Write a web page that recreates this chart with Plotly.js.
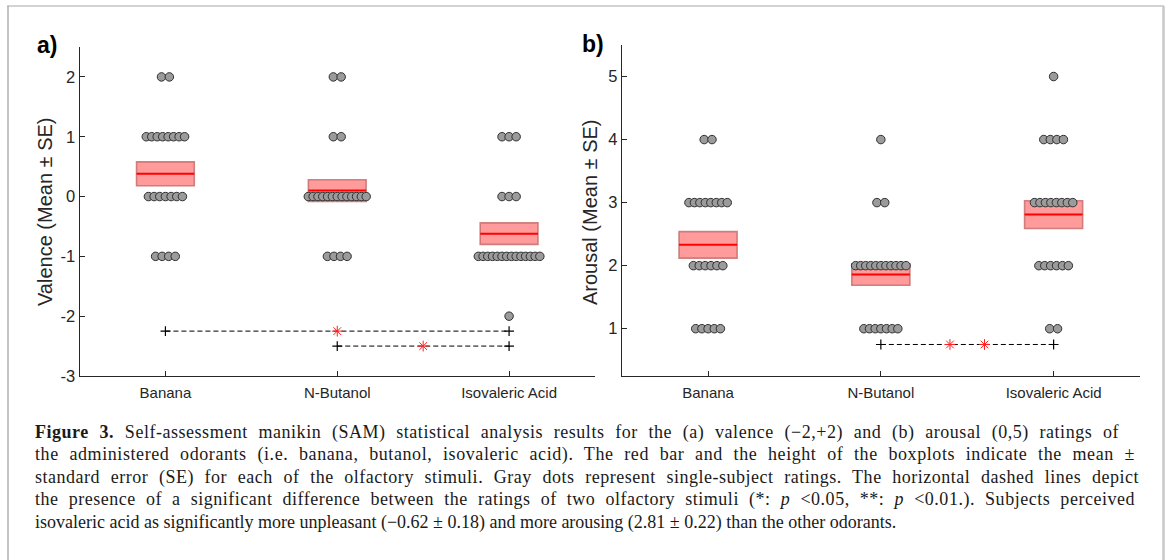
<!DOCTYPE html>
<html>
<head>
<meta charset="utf-8">
<script src="https://cdn.plot.ly/plotly-3.0.1.min.js"></script>
<style>
  html, body { margin: 0; padding: 0; background: #ffffff; }
  #chart { width: 1170px; height: 560px; }
</style>
</head>
<body>
<div id="chart"></div>
<script>
// ---------------- DATA ----------------
const categories = ['Banana', 'N-Butanol', 'Isovaleric Acid'];

// Valence ratings: number of subjects at each level, per odorant
const valenceLevels = [2, 1, 0, -1, -2];
const valenceCounts = [
  [2, 8, 7, 4, 0],    // Banana
  [2, 2, 13, 4, 0],   // N-Butanol
  [0, 3, 3, 14, 1]    // Isovaleric Acid
];
const valenceMean = [0.38, 0.10, -0.62];
const valenceSE = [0.20, 0.18, 0.18];
const valenceTicks = [-3, -2, -1, 0, 1, 2];
// significance: [from, to], y level, number of stars
const valenceSigPairs = [[1, 3], [2, 3]];
const valenceSigY = [-2.25, -2.5];
const valenceSigStars = [1, 1];

// Arousal ratings
const arousalLevels = [5, 4, 3, 2, 1];
const arousalCounts = [
  [0, 2, 8, 6, 5],    // Banana
  [0, 1, 2, 11, 7],   // N-Butanol
  [1, 4, 8, 6, 2]     // Isovaleric Acid
];
const arousalMean = [2.33, 1.86, 2.81];
const arousalSE = [0.21, 0.17, 0.22];
const arousalTicks = [1, 2, 3, 4, 5];
const arousalSigPairs = [[2, 3]];
const arousalSigY = [0.75];
const arousalSigStars = [2];

const captionLines = [
  '<b>Figure 3.</b> Self-assessment manikin (SAM) statistical analysis results for the (a) valence (\u22122,+2) and (b) arousal (0,5) ratings of',
  'the administered odorants (i.e. banana, butanol, isovaleric acid). The red bar and the height of the boxplots indicate the mean \u00b1',
  'standard error (SE) for each of the olfactory stimuli. Gray dots represent single-subject ratings. The horizontal dashed lines depict',
  'the presence of a significant difference between the ratings of two olfactory stimuli (*: <i>p</i> &lt;0.05, **: <i>p</i> &lt;0.01.). Subjects perceived',
  'isovaleric acid as significantly more unpleasant (\u22120.62 \u00b1 0.18) and more arousing (2.81 \u00b1 0.22) than the other odorants.'
];

// ---------------- LAYOUT GEOMETRY ----------------
const W = 1170, H = 560;
const axA = { x0: 79.5, x1: 595, yTop: 47, yBot: 376 };
const axB = { x0: 621.7, x1: 1140, yTop: 45, yBot: 376 };
const pxPerUnitA = (axA.x1 - axA.x0) / 3;
const pxPerUnitB = (axB.x1 - axB.x0) / 3;
const boxHalf = 0.168;
const axisColor = '#262626';
const sansFont = 'Liberation Sans, Arial, Helvetica, sans-serif';
const serifFont = 'Liberation Serif, Times New Roman, serif';
const captionLeft = 33;
const captionJustifyRight = [1117, 1133, 1137, 1133];  // justified lines (last line ragged)

function dotSpacing(n) { return 9.4 * Math.pow(n, -0.26); }

function dotTrace(levels, counts, pxPerUnit, xa, ya) {
  const xs = [], ys = [];
  counts.forEach((row, ci) => {
    row.forEach((n, li) => {
      const s = dotSpacing(n) / pxPerUnit;
      for (let i = 0; i < n; i++) {
        xs.push(ci + 1 + (i - (n - 1) / 2) * s);
        ys.push(levels[li]);
      }
    });
  });
  return {
    type: 'scatter', mode: 'markers', x: xs, y: ys, xaxis: xa, yaxis: ya,
    marker: { size: 8.5, color: '#9b9b9b', line: { color: '#303030', width: 1 } },
    hoverinfo: 'skip', showlegend: false
  };
}

function boxShapes(mean, se, xr, yr) {
  const shapes = [];
  mean.forEach((m, i) => {
    shapes.push({
      type: 'rect', xref: xr, yref: yr, layer: 'below',
      x0: i + 1 - boxHalf, x1: i + 1 + boxHalf, y0: m - se[i], y1: m + se[i],
      fillcolor: '#ff9b9b', line: { color: 'rgba(200,110,110,0.85)', width: 1.6 }
    });
    shapes.push({
      type: 'line', xref: xr, yref: yr, layer: 'below',
      x0: i + 1 - boxHalf, x1: i + 1 + boxHalf, y0: m, y1: m,
      line: { color: '#ff0000', width: 2 }
    });
  });
  return shapes;
}

function sigTraces(pairs, ys, stars, xa, ya) {
  const out = [];
  const sx = [], sy = [];
  pairs.forEach((p, k) => {
    out.push({
      type: 'scatter', mode: 'lines+markers', x: p, y: [ys[k], ys[k]], xaxis: xa, yaxis: ya,
      line: { color: '#000000', width: 1, dash: '5px,3px' },
      marker: { symbol: 'cross-thin-open', size: 7, color: '#000000', line: { width: 1.2, color: '#000000' } },
      hoverinfo: 'skip', showlegend: false
    });
    const mid = (p[0] + p[1]) / 2;
    if (stars[k] === 1) { sx.push(mid); sy.push(ys[k]); }
    else { sx.push(mid - 0.1, mid + 0.1); sy.push(ys[k], ys[k]); }
  });
  out.push({
    type: 'scatter', mode: 'markers', x: sx, y: sy, xaxis: xa, yaxis: ya,
    marker: { symbol: 'asterisk-open', size: 9, color: '#ff2020', line: { width: 1, color: '#ff2020' } },
    hoverinfo: 'skip', showlegend: false
  });
  return out;
}

const data = [
  dotTrace(valenceLevels, valenceCounts, pxPerUnitA, 'x', 'y'),
  ...sigTraces(valenceSigPairs, valenceSigY, valenceSigStars, 'x', 'y'),
  dotTrace(arousalLevels, arousalCounts, pxPerUnitB, 'x2', 'y2'),
  ...sigTraces(arousalSigPairs, arousalSigY, arousalSigStars, 'x2', 'y2')
];

function xAxis(ax, yanchor) {
  return {
    domain: [ax.x0 / W, ax.x1 / W], range: [0.5, 3.5], anchor: yanchor,
    tickmode: 'array', tickvals: [1, 2, 3], ticktext: categories,
    ticks: 'inside', ticklen: 5, tickwidth: 1, tickcolor: axisColor,
    showline: true, linecolor: axisColor, linewidth: 1,
    showgrid: false, zeroline: false, ticklabelstandoff: 3,
    tickfont: { family: sansFont, size: 15, color: axisColor }, fixedrange: true
  };
}
function yAxis(ax, xanchor, range, ticks) {
  return {
    domain: [1 - ax.yBot / H, 1 - ax.yTop / H], range: range, anchor: xanchor,
    tickmode: 'array', tickvals: ticks, ticktext: ticks.map(String),
    ticks: 'inside', ticklen: 5, tickwidth: 1, tickcolor: axisColor,
    showline: true, linecolor: axisColor, linewidth: 1,
    showgrid: false, zeroline: false,
    tickfont: { family: sansFont, size: 16.5, color: axisColor }, fixedrange: true
  };
}

const annotations = [
  { text: '<b>a)</b>', xref: 'paper', yref: 'paper', x: 35 / W, y: 1 - 45 / H, xanchor: 'left', yanchor: 'middle',
    showarrow: false, font: { family: sansFont, size: 23, color: '#000' } },
  { text: '<b>b)</b>', xref: 'paper', yref: 'paper', x: 580 / W, y: 1 - 44 / H, xanchor: 'left', yanchor: 'middle',
    showarrow: false, font: { family: sansFont, size: 23, color: '#000' } },
  { text: 'Valence (Mean \u00b1 SE)', xref: 'paper', yref: 'paper', x: 45 / W, y: 1 - 212 / H, textangle: -90,
    xanchor: 'center', yanchor: 'middle', showarrow: false, font: { family: sansFont, size: 20, color: axisColor } },
  { text: 'Arousal (Mean \u00b1 SE)', xref: 'paper', yref: 'paper', x: 590 / W, y: 1 - 212 / H, textangle: -90,
    xanchor: 'center', yanchor: 'middle', showarrow: false, font: { family: sansFont, size: 20, color: axisColor } }
];
const captionStart = annotations.length;
captionLines.forEach((t, i) => {
  annotations.push({
    text: t, xref: 'paper', yref: 'paper', x: captionLeft / W, y: 1 - (432 + i * 22.5) / H,
    xanchor: 'left', yanchor: 'middle', showarrow: false, align: 'left',
    font: { family: serifFont, size: 18, color: '#1a1a1a' }
  });
});

const frameShapes = [
  { type: 'line', xref: 'paper', yref: 'paper', x0: 8 / W, x1: 8 / W, y0: 0, y1: 1 - 6 / H, line: { color: '#c4c4c4', width: 2 } },
  { type: 'line', xref: 'paper', yref: 'paper', x0: 7 / W, x1: 1164 / W, y0: 1 - 6 / H, y1: 1 - 6 / H, line: { color: '#a8a8a8', width: 1.2 } },
  { type: 'line', xref: 'paper', yref: 'paper', x0: 1163.5 / W, x1: 1163.5 / W, y0: 0, y1: 1 - 6 / H, line: { color: '#c8c8c8', width: 2.5 } }
];

const layout = {
  width: W, height: H,
  margin: { l: 0, r: 0, t: 0, b: 0 },
  paper_bgcolor: '#ffffff', plot_bgcolor: 'rgba(0,0,0,0)',
  showlegend: false,
  xaxis: xAxis(axA, 'y'),
  yaxis: yAxis(axA, 'x', [-3, 2.5], valenceTicks),
  xaxis2: xAxis(axB, 'y2'),
  yaxis2: yAxis(axB, 'x2', [0.25, 5.5], arousalTicks),
  shapes: [...frameShapes,
           ...boxShapes(valenceMean, valenceSE, 'x', 'y'),
           ...boxShapes(arousalMean, arousalSE, 'x2', 'y2')],
  annotations: annotations
};

// Justify caption lines (as in the printed figure): part letter spacing, part word spacing.
function justifyCaption(gd) {
  const groups = gd.querySelectorAll('g.annotation');
  groups.forEach(g => {
    const idx = parseInt(g.getAttribute('data-index'), 10) - captionStart;
    if (!(idx >= 0 && idx < captionJustifyRight.length)) return;
    const textEl = g.querySelector('text.annotation-text');
    if (!textEl) return;
    const before = textEl.getBoundingClientRect();
    const txt = textEl.textContent;
    const spaces = (txt.match(/ /g) || []).length;
    if (!spaces) return;
    const target = captionJustifyRight[idx] - captionLeft;
    const extra = target - before.width;
    if (extra <= 0) return;
    const ls = 0.4 * extra / txt.length;
    textEl.style.letterSpacing = ls + 'px';
    const mid = textEl.getBoundingClientRect();
    const ws = (target - mid.width) / spaces;
    textEl.style.wordSpacing = ws + 'px';
    const after = textEl.getBoundingClientRect();
    const dx = before.left - after.left;
    if (Math.abs(dx) > 0.1) textEl.setAttribute('transform', 'translate(' + dx + ',0)');
  });
}

Plotly.newPlot('chart', data, layout, { displayModeBar: false, staticPlot: true })
  .then(gd => justifyCaption(gd));
</script>
</body>
</html>
